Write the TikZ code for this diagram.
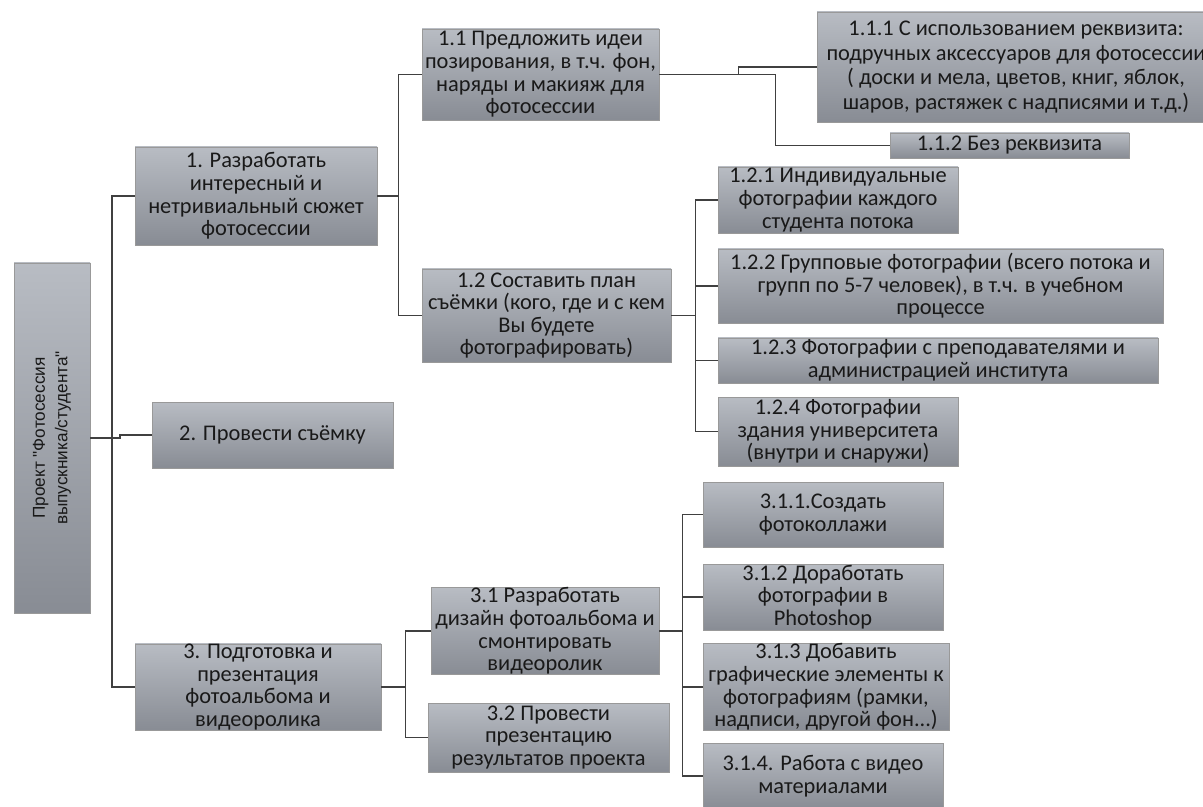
\documentclass[tikz,border=0pt]{standalone}
\usepackage{fontspec}
\setmainfont{Carlito}
\newfontfamily\rootfont{Liberation Sans}
\usepackage{tikz}

\begin{document}
\begin{tikzpicture}[x=0.5pt, y=-0.5pt,
    blk/.style={draw=black!40, line width=0.4pt,
      top color={rgb,255:red,184;green,188;blue,195},
      bottom color={rgb,255:red,136;green,140;blue,148},
      text=black!90, align=center, inner sep=0pt,
      font=\fontsize{11.2}{11.3}\selectfont},
    wh/.style 2 args={minimum width=#1*0.5pt, minimum height=#2*0.5pt},
    con/.style={draw=black!75, line width=0.7pt}]
  \useasboundingbox (0,0) rectangle (1203,807);

  \node[name=root, blk, rotate=90, wh={350}{76},
    font=\rootfont\fontsize{8.6}{11.2}\selectfont] at (52,438)
    {Проект "Фотосессия\\выпускника/студента"};

  \node[name=n1, blk, wh={242}{98}] at (256,196)
    {1. Разработать\\интересный и\\нетривиальный сюжет\\фотосессии};
  \node[name=n2, blk, wh={241}{66}] at (272.5,435) {2. Провести съёмку};
  \node[name=n3, blk, wh={246}{84}] at (258,687)
    {3. Подготовка и\\презентация\\фотоальбома и\\видеоролика};

  \node[name=n11, blk, wh={237}{91}] at (540.5,74.5)
    {1.1 Предложить идеи\\позирования, в т.ч. фон,\\наряды и макияж для\\фотосессии};
  \node[name=n12, blk, wh={249}{93}] at (546.5,315.5)
    {1.2 Составить план\\съёмки (кого, где и с кем\\Вы будете\\фотографировать)};

  \node[name=n111, blk, wh={398}{110}, font=\fontsize{11.2}{12.4}\selectfont] at (1016,67)
    {1.1.1 С использованием реквизита:\\подручных аксессуаров для фотосессии\\( доски и мела, цветов, книг, яблок,\\шаров, растяжек с надписями и т.д.)};
  \node[name=n112, blk, wh={239}{25}] at (1009.5,145.5) {1.1.2 Без реквизита};

  \node[name=n121, blk, wh={240}{66}] at (838,200)
    {1.2.1 Индивидуальные\\фотографии каждого\\студента потока};
  \node[name=n122, blk, wh={445}{74}] at (940.5,286)
    {1.2.2 Групповые фотографии (всего потока и\\групп по 5-7 человек), в т.ч. в учебном\\процессе};
  \node[name=n123, blk, wh={440}{45}] at (938,360.5)
    {1.2.3 Фотографии с преподавателями и\\администрацией института};
  \node[name=n124, blk, wh={240}{69}] at (838,431.5)
    {1.2.4 Фотографии\\здания университета\\(внутри и снаружи)};

  \node[name=n31, blk, wh={228}{86}] at (545,631)
    {3.1 Разработать\\дизайн фотоальбома и\\смонтировать\\видеоролик};
  \node[name=n32, blk, wh={241}{69}] at (548.5,737.5)
    {3.2 Провести\\презентацию\\результатов проекта};

  \node[name=n311, blk, wh={240}{65}] at (823,514.5)
    {3.1.1.Создать\\фотоколлажи};
  \node[name=n312, blk, wh={240}{66}] at (823,597)
    {3.1.2 Доработать\\фотографии в\\Photoshop};
  \node[name=n313, blk, wh={246}{82}] at (826,687)
    {3.1.3 Добавить\\графические элементы к\\фотографиям (рамки,\\надписи, другой фон...)};
  \node[name=n314, blk, wh={240}{66}] at (823,776)
    {3.1.4. Работа с видео\\материалами};

  \coordinate (t0) at (112,438);
  \draw[con] (root.south) -- (t0);
  \draw[con] (n1.west) -| (t0);
  \draw[con] (n3.west) -| (t0);
  \draw[con] (t0) -- ++(8,0) |- (n2.west);

  \draw[con] (n1.east) -- ++(21,0) coordinate (t1);
  \draw[con] (n11.west) -| (t1);
  \draw[con] (n12.west) -| (t1);

  \draw[con] (n11.east) -- ++(79,0) |- (n111.west);
  \draw[con] (n11.east) -- ++(116,0) |- (n112.west);

  \draw[con] (n12.east) -- ++(24,0) coordinate (t12);
  \foreach \k in {n121,n122,n123,n124}
    \draw[con] (\k.west) -| (t12);

  \draw[con] (n3.east) -- ++(24,0) coordinate (t3);
  \draw[con] (n31.west) -| (t3);
  \draw[con] (n32.west) -| (t3);

  \draw[con] (n31.east) -- ++(23,0) coordinate (t31);
  \foreach \k in {n311,n312,n313,n314}
    \draw[con] (\k.west) -| (t31);
\end{tikzpicture}
\end{document}
